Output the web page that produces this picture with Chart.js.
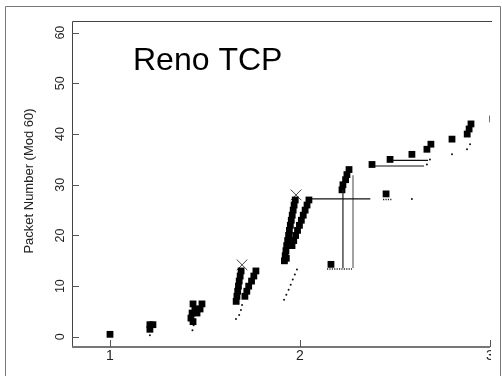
<!DOCTYPE html>
<html>
<head>
<meta charset="utf-8">
<script src="https://cdn.jsdelivr.net/npm/chart.js@4"></script>
<style>
  body { margin: 0; background: #fff; }
  canvas { display: block; }
</style>
</head>
<body>
<canvas id="renoChart" width="502" height="376"></canvas>
<script>
// Sent packets (squares): time (s) and packet number mod 60
const sentTimes = [1.0, 1.21, 1.21, 1.226,
  1.426, 1.437, 1.432, 1.458, 1.447, 1.474, 1.437, 1.484,
  1.664, 1.668, 1.672, 1.676, 1.68, 1.685, 1.69,
  1.71, 1.72, 1.73, 1.745, 1.757, 1.768,
  1.918, 1.928, 1.922, 1.926, 1.93, 1.935, 1.94, 1.944, 1.949, 1.954, 1.959, 1.964, 1.969, 1.975,
  1.958, 1.967, 1.977, 1.987, 1.997, 2.007, 2.017, 2.027, 2.037, 2.047,
  2.163, 2.221, 2.226, 2.24, 2.247, 2.258,
  2.379, 2.453, 2.474, 2.589, 2.668, 2.689, 2.8, 2.88, 2.89, 2.9, 3.015];
const sentSeq = [0.5, 1.5, 2.4, 2.4,
  3.7, 3.0, 4.7, 4.7, 5.5, 5.5, 6.5, 6.5,
  7, 8, 9, 10, 11, 12, 13,
  8, 9, 10, 11, 12, 13,
  15, 15.5, 16, 17, 18, 19, 20, 21, 22, 23, 24, 25, 26, 27,
  18, 19, 20, 21, 22, 23, 24, 25, 26, 27,
  14.3, 29, 30, 31, 32, 33,
  34, 28.2, 35, 36, 37, 38, 39, 40, 41, 42, 43];

// ACKs (small dots)
const ackTimes = [1.21, 1.44, 1.434, 1.663, 1.68, 1.689, 1.695,
  1.916, 1.928, 1.94, 1.951, 1.962, 1.973, 1.984,
  2.589, 2.668, 2.684, 2.8, 2.879, 2.895];
const ackSeq = [0.3, 2.3, 1.3, 3.5, 4.3, 5.3, 6.3,
  7.3, 8.3, 9.3, 10.3, 11.3, 12.3, 13.3,
  27.2, 34, 35, 36, 37, 38];

// Drops / timeouts (X marks)
const dropTimes = [1.695, 1.979];
const dropSeq = [14.2, 28];

// Solid segments: [x0, y0, x1, y1]
const segStartX = [2.063, 2.226, 2.279, 2.384, 2.484];
const segStartY = [27.2, 29, 31.9, 33.7, 34.8];
const segEndX = [2.37, 2.226, 2.279, 2.653, 2.674];
const segEndY = [27.2, 13.6, 13.6, 33.7, 34.8];
const segColors = ["#111", "#222", "#666", "#111", "#111"];

// Duplicate ACK runs (dotted)
const dupStartX = [2.142, 2.437];
const dupEndX = [2.274, 2.484];
const dupSeq = [13.4, 27.1];

const xTicks = [1, 2, 3];
const yTicks = [0, 10, 20, 30, 40, 50, 60];

const toPoints = (xs, ys) => xs.map((x, i) => ({ x: x, y: ys[i] }));

const datasets = [];
segStartX.forEach((x0, i) => {
  datasets.push({
    data: [{ x: x0, y: segStartY[i] }, { x: segEndX[i], y: segEndY[i] }],
    showLine: true,
    borderColor: segColors[i],
    borderWidth: 1.2,
    pointRadius: 0,
    clip: 0,
  });
});
dupStartX.forEach((x0, i) => {
  datasets.push({
    data: [{ x: x0, y: dupSeq[i] }, { x: dupEndX[i], y: dupSeq[i] }],
    showLine: true,
    borderColor: "#222",
    borderWidth: 1.5,
    borderDash: [1.2, 1.2],
    pointRadius: 0,
    clip: 0,
  });
});
datasets.push({
  data: toPoints(sentTimes, sentSeq),
  pointStyle: "rect",
  pointRadius: 4.8,
  backgroundColor: "#000",
  borderWidth: 0,
  clip: 0,
});
datasets.push({
  data: toPoints(ackTimes, ackSeq),
  pointStyle: "circle",
  pointRadius: 1,
  backgroundColor: "#111",
  borderWidth: 0,
  clip: 0,
});
datasets.push({
  data: toPoints(dropTimes, dropSeq),
  pointStyle: "crossRot",
  pointRadius: 7.5,
  borderColor: "#444",
  borderWidth: 1,
  clip: 0,
});

// Frame, axes, ticks and texts drawn from the scales
const framePlugin = {
  id: "frame",
  beforeDraw(chart) {
    const ctx = chart.ctx;
    ctx.save();
    ctx.fillStyle = "#fff";
    ctx.fillRect(0, 0, chart.width, chart.height);
    ctx.restore();
  },
  afterDraw(chart) {
    const ctx = chart.ctx;
    const area = chart.chartArea;
    const xs = chart.scales.x;
    const ys = chart.scales.y;
    ctx.save();

    // outer frame
    ctx.strokeStyle = "#777";
    ctx.lineWidth = 1;
    ctx.beginPath();
    ctx.moveTo(5.5, 376);
    ctx.lineTo(5.5, 6.5);
    ctx.lineTo(500.5, 6.5);
    ctx.lineTo(500.5, 376);
    ctx.stroke();

    // plot box: left and top
    ctx.strokeStyle = "#444";
    ctx.beginPath();
    ctx.moveTo(area.left + 0.5, area.bottom);
    ctx.lineTo(area.left + 0.5, area.top + 0.5);
    ctx.lineTo(area.right + 2, area.top + 0.5);
    ctx.stroke();

    // bottom axis
    ctx.strokeStyle = "#777";
    ctx.lineWidth = 2;
    ctx.beginPath();
    ctx.moveTo(area.left, area.bottom);
    ctx.lineTo(area.right, area.bottom);
    ctx.stroke();

    // ticks (inward)
    ctx.lineWidth = 1;
    ctx.strokeStyle = "#555";
    ctx.beginPath();
    xTicks.forEach((t) => {
      const px = Math.round(xs.getPixelForValue(t)) + 0.5;
      ctx.moveTo(px, area.bottom);
      ctx.lineTo(px, area.bottom - 7);
    });
    yTicks.forEach((t) => {
      const py = Math.round(ys.getPixelForValue(t)) + 0.5;
      ctx.moveTo(area.left, py);
      ctx.lineTo(area.left + 7, py);
    });
    ctx.stroke();

    // x tick labels (the last one is cut by the picture edge)
    ctx.save();
    ctx.beginPath();
    ctx.rect(0, area.bottom, area.right + 1, chart.height - area.bottom);
    ctx.clip();
    ctx.fillStyle = "#222";
    ctx.font = "14px 'Liberation Sans', Arial, sans-serif";
    ctx.textAlign = "center";
    ctx.textBaseline = "middle";
    xTicks.forEach((t) => {
      ctx.fillText(String(t), xs.getPixelForValue(t), area.bottom + 9);
    });
    ctx.restore();

    // y tick labels, rotated
    ctx.fillStyle = "#222";
    ctx.textAlign = "center";
    ctx.textBaseline = "middle";
    ctx.font = "12.5px 'Liberation Sans', Arial, sans-serif";
    yTicks.forEach((t) => {
      ctx.save();
      ctx.translate(61, ys.getPixelForValue(t));
      ctx.rotate(-Math.PI / 2);
      ctx.fillText(String(t), 0, 0);
      ctx.restore();
    });

    // y axis title
    ctx.save();
    ctx.font = "13px 'Liberation Sans', Arial, sans-serif";
    ctx.translate(29, 181);
    ctx.rotate(-Math.PI / 2);
    ctx.fillText("Packet Number (Mod 60)", 0, 0);
    ctx.restore();

    // in-plot title
    ctx.fillStyle = "#000";
    ctx.font = "32px 'Liberation Sans', Arial, sans-serif";
    ctx.textAlign = "left";
    ctx.textBaseline = "alphabetic";
    ctx.fillText("Reno TCP", 133, 70);

    ctx.restore();
  },
};

new Chart(document.getElementById("renoChart"), {
  type: "scatter",
  data: { datasets: datasets },
  options: {
    responsive: false,
    animation: false,
    layout: { padding: { left: 72, top: 21, right: 12, bottom: 29 } },
    plugins: { legend: { display: false }, tooltip: { enabled: false } },
    scales: {
      x: { type: "linear", display: false, min: 0.8, max: 3.0 },
      y: { type: "linear", display: false, min: -2, max: 62.3 },
    },
  },
  plugins: [framePlugin],
});
</script>
</body>
</html>
